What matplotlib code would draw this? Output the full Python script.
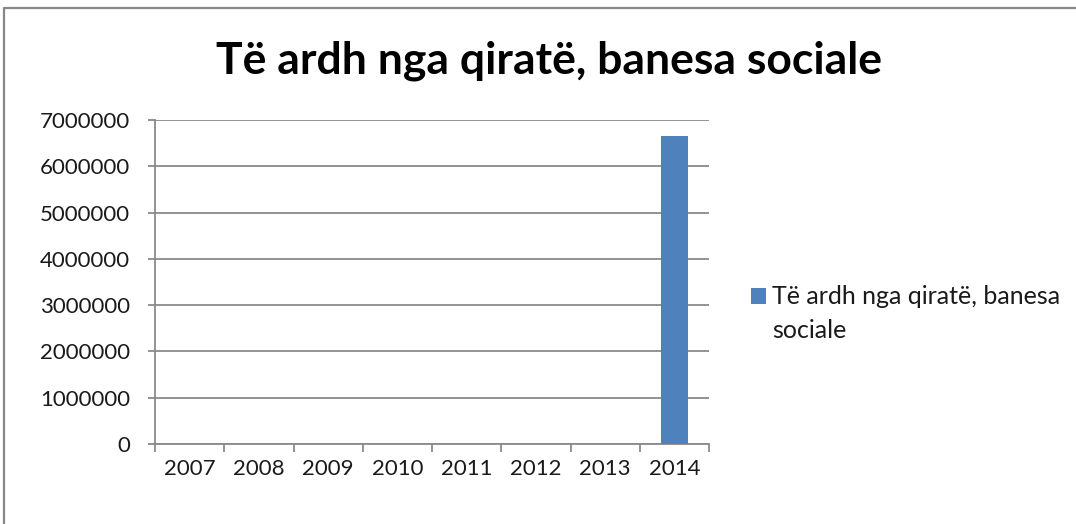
import matplotlib.pyplot as plt
from matplotlib.lines import Line2D
from matplotlib.ticker import FixedLocator

years = ['2007', '2008', '2009', '2010', '2011', '2012', '2013', '2014']
income = [0, 0, 0, 0, 0, 0, 0, 6650000]
series_name = 'Të ardh nga qiratë, banesa sociale'
y_ticks = [0, 1000000, 2000000, 3000000, 4000000, 5000000, 6000000, 7000000]

W, H = 1076, 524
plt.rcParams['font.family'] = ['Lato', 'DejaVu Sans']

fig = plt.figure(figsize=(W / 100, H / 100), dpi=100)
fig.patch.set_facecolor('white')

# plot area in pixel terms
left, right, top, bottom = 155, 709, 120, 444
ax = fig.add_axes([left / W, (H - bottom) / H, (right - left) / W, (bottom - top) / H])

x = list(range(len(years)))
bars = ax.bar(x, income, width=0.4, color='#4f81bd', zorder=3)

ax.set_xlim(-0.5, len(years) - 0.5)
ax.set_ylim(0, 7000000)
ax.set_yticks(y_ticks)
ax.set_yticklabels([str(v) for v in y_ticks], fontsize=16, color='#1a1a1a')
ax.yaxis.grid(True, color='#8a8a8a', linewidth=1.3, zorder=0)

# category boundaries get the tick marks, labels sit at the centres
ax.xaxis.set_major_locator(FixedLocator([i - 0.5 for i in range(len(years) + 1)]))
ax.xaxis.set_minor_locator(FixedLocator(x))
ax.set_xticklabels([], minor=False)
ax.set_xticklabels(years, minor=True, fontsize=16, color='#1a1a1a')
ax.tick_params(axis='x', which='major', length=5.5, width=1.3, color='#8a8a8a')
ax.tick_params(axis='x', which='minor', length=0, pad=11)
ax.tick_params(axis='y', length=5, width=1.3, color='#8a8a8a', pad=13)

for side in ['top', 'right']:
    ax.spines[side].set_visible(False)
for side in ['left', 'bottom']:
    ax.spines[side].set_color('#8a8a8a')
    ax.spines[side].set_linewidth(1.3)

fig.text(549 / W, 1 - 61 / H, series_name, ha='center', va='center',
         fontsize=32, fontweight='bold', color='#000000')

# legend: square next to the first line, name wraps onto a second line
leg = fig.legend(handles=[bars[-1]], labels=['Të ardh nga qiratë, banesa'],
                 loc='center left', bbox_to_anchor=(751 / W, 1 - 297 / H),
                 frameon=False, fontsize=18, handlelength=0.6, handleheight=0.6,
                 handletextpad=0.25, borderaxespad=0, borderpad=0)
for t in leg.get_texts():
    t.set_color('#1a1a1a')
fig.canvas.draw()
first = leg.get_texts()[0].get_window_extent()
fig.text(first.x0 / W, (first.y0 - 33) / H, 'sociale', ha='left', va='bottom',
         fontsize=18, color='#1a1a1a')

# chart frame edges
fig.add_artist(Line2D([4 / W, 4 / W, 1], [0, 1 - 7.5 / H, 1 - 7.5 / H],
                      color='#878787', linewidth=1.6, transform=fig.transFigure))

fig.savefig('out.png', dpi=100)
